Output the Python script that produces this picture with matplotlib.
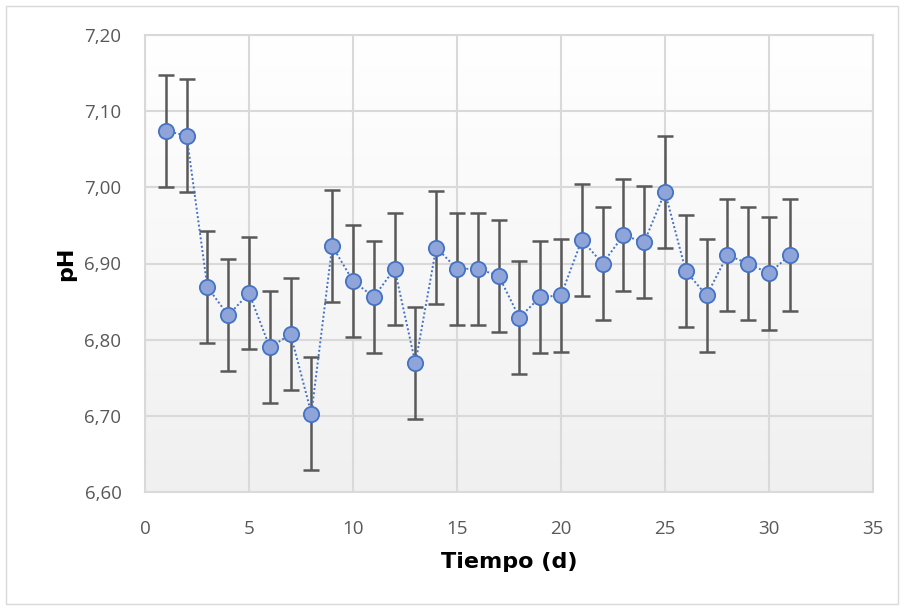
import numpy as np
import matplotlib
matplotlib.use("Agg")
import matplotlib.pyplot as plt
from matplotlib.patches import Rectangle

# pH readings per day
days = list(range(1, 32))
ph = [7.074, 7.068, 6.869, 6.832, 6.861, 6.790, 6.807, 6.703, 6.923, 6.877,
      6.856, 6.893, 6.769, 6.921, 6.893, 6.893, 6.884, 6.829, 6.856, 6.858,
      6.931, 6.900, 6.937, 6.928, 6.994, 6.890, 6.858, 6.911, 6.900, 6.887,
      6.911]
ph_err = [0.0737] * 31

x_ticks = [0, 5, 10, 15, 20, 25, 30, 35]
y_ticks = [6.60, 6.70, 6.80, 6.90, 7.00, 7.10, 7.20]

fig = plt.figure(figsize=(9.05, 6.10), dpi=100)
ax = fig.add_axes([145 / 905, 1 - 492 / 610, (873 - 145) / 905, (492 - 35) / 610])

# outer chart border
fig.patches.append(Rectangle((6 / 905, 6 / 610), 892 / 905, 598 / 610,
                             transform=fig.transFigure, fill=False,
                             edgecolor="#d9d9d9", linewidth=1.0))

# gradient plot area: white at top, light grey at bottom
grad = np.linspace(0, 1, 256).reshape(-1, 1)
cmap = matplotlib.colors.LinearSegmentedColormap.from_list("bg", ["#ffffff", "#f0f0f0"])
ax.imshow(grad, aspect="auto", cmap=cmap, extent=[0, 35, 6.60, 7.20],
          origin="upper", zorder=0)

ax.set_xlim(0, 35)
ax.set_ylim(6.60, 7.20)
ax.set_xticks(x_ticks)
ax.set_yticks(y_ticks)
ax.set_xticklabels([str(t) for t in x_ticks])
ax.set_yticklabels([f"{t:.2f}".replace(".", ",") for t in y_ticks])
ax.grid(True, color="#d9d9d9", linewidth=1.5, zorder=1)
ax.set_axisbelow(True)
for s in ax.spines.values():
    s.set_color("#d9d9d9")
    s.set_linewidth(1.5)
ax.tick_params(length=0, labelsize=13.5, labelcolor="#595959")
ax.tick_params(axis="y", pad=17)
ax.tick_params(axis="x", pad=20)
for lab in ax.get_xticklabels() + ax.get_yticklabels():
    lab.set_family("Open Sans")

ax.errorbar(days, ph, yerr=ph_err, fmt="none", ecolor="#595959",
            elinewidth=1.8, capsize=6, capthick=1.8, zorder=3)
ax.plot(days, ph, linestyle=(0, (1, 1.2)), color="#4472c4", linewidth=1.4,
        marker="o", markersize=11, markerfacecolor="#8fa5d9",
        markeredgecolor="#4472c4", markeredgewidth=1.3, zorder=4)

ax.set_xlabel("Tiempo (d)", fontsize=16, fontweight="bold", family="DejaVu Sans", labelpad=10)
ax.set_ylabel("pH", fontsize=16, fontweight="bold", family="DejaVu Sans", labelpad=6)

fig.savefig("out.png", dpi=100)
